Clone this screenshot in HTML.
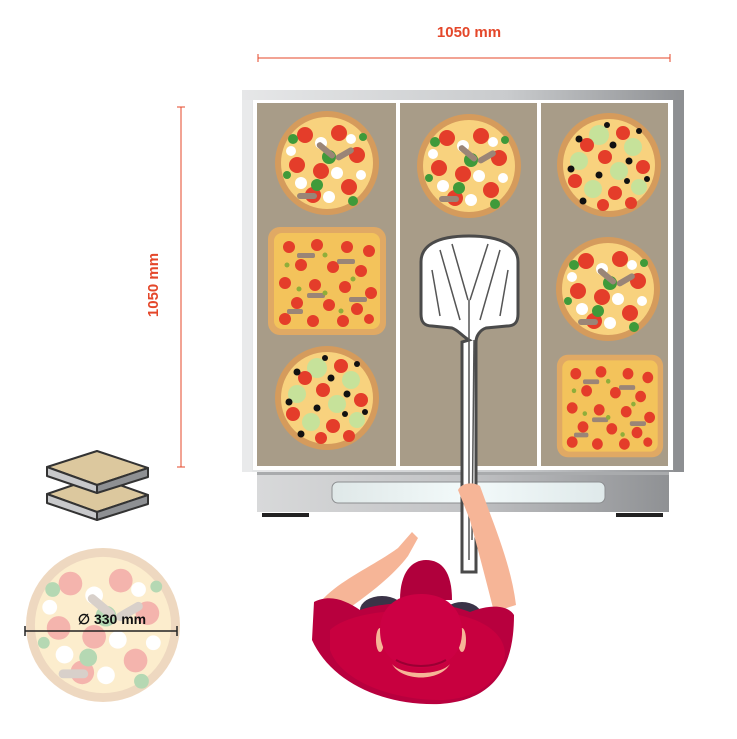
<!DOCTYPE html>
<html><head><meta charset="utf-8"><style>
html,body{margin:0;padding:0;background:#fff}
svg{display:block}
text{font-family:"Liberation Sans",sans-serif;font-weight:bold}
</style></head><body>
<svg width="737" height="739" viewBox="0 0 737 739" xmlns="http://www.w3.org/2000/svg">
<defs>
<linearGradient id="frameTop" x1="0" x2="1"><stop offset="0" stop-color="#e6e7e8"/><stop offset=".6" stop-color="#c9cbcd"/><stop offset="1" stop-color="#8e9093"/></linearGradient>
<linearGradient id="bar" x1="0" x2="1"><stop offset="0" stop-color="#d8d9da"/><stop offset=".5" stop-color="#c2c3c5"/><stop offset="1" stop-color="#8f9194"/></linearGradient>
<linearGradient id="win" x1="0" x2="1"><stop offset="0" stop-color="#dfe8e8"/><stop offset=".5" stop-color="#f3fafa"/><stop offset="1" stop-color="#dfe9ea"/></linearGradient>
<g id="marg">
<circle r="52" fill="#d59b5c"/><circle r="46" fill="#f8d27e"/>
<circle cx="-22" cy="-28" r="8" fill="#e43d2a"/><circle cx="12" cy="-30" r="8" fill="#e43d2a"/><circle cx="30" cy="-8" r="8" fill="#e43d2a"/><circle cx="-30" cy="2" r="8" fill="#e43d2a"/><circle cx="-6" cy="8" r="8" fill="#e43d2a"/><circle cx="22" cy="24" r="8" fill="#e43d2a"/><circle cx="-14" cy="32" r="8" fill="#e43d2a"/>
<circle cx="-6" cy="-20" r="6" fill="#fff"/><circle cx="24" cy="-24" r="5" fill="#fff"/><circle cx="-36" cy="-12" r="5" fill="#fff"/><circle cx="10" cy="10" r="6" fill="#fff"/><circle cx="-26" cy="20" r="6" fill="#fff"/><circle cx="34" cy="12" r="5" fill="#fff"/><circle cx="2" cy="34" r="6" fill="#fff"/>
<circle cx="-34" cy="-24" r="5" fill="#3f9a3a"/><circle cx="2" cy="-6" r="7" fill="#3f9a3a"/><circle cx="36" cy="-26" r="4" fill="#3f9a3a"/><circle cx="-10" cy="22" r="6" fill="#3f9a3a"/><circle cx="26" cy="38" r="5" fill="#3f9a3a"/><circle cx="-40" cy="12" r="4" fill="#3f9a3a"/>
<rect x="-20" y="-12" width="22" height="6" rx="3" fill="#9a8577" transform="rotate(40)"/><rect x="10" y="-2" width="20" height="6" rx="3" fill="#9a8577" transform="rotate(-30)"/><rect x="-30" y="30" width="20" height="6" rx="3" fill="#9a8577"/>
</g>
<g id="veg">
<circle r="52" fill="#d59b5c"/><circle r="46" fill="#f8d27e"/>
<circle cx="-10" cy="-30" r="10" fill="#c6e29a"/><circle cx="24" cy="-18" r="9" fill="#c6e29a"/><circle cx="-30" cy="-4" r="9" fill="#c6e29a"/><circle cx="10" cy="6" r="9" fill="#c6e29a"/><circle cx="-16" cy="24" r="9" fill="#c6e29a"/><circle cx="30" cy="22" r="8" fill="#c6e29a"/>
<circle cx="14" cy="-32" r="7" fill="#e43d2a"/><circle cx="-22" cy="-20" r="7" fill="#e43d2a"/><circle cx="-4" cy="-8" r="7" fill="#e43d2a"/><circle cx="34" cy="2" r="7" fill="#e43d2a"/><circle cx="-34" cy="16" r="7" fill="#e43d2a"/><circle cx="6" cy="28" r="7" fill="#e43d2a"/><circle cx="-6" cy="40" r="6" fill="#e43d2a"/><circle cx="22" cy="38" r="6" fill="#e43d2a"/>
<g fill="#111"><circle cx="-30" cy="-26" r="3.5"/><circle cx="4" cy="-20" r="3.5"/><circle cx="30" cy="-34" r="3"/><circle cx="-38" cy="4" r="3.5"/><circle cx="20" cy="-4" r="3.5"/><circle cx="-10" cy="10" r="3.5"/><circle cx="38" cy="14" r="3"/><circle cx="-26" cy="36" r="3.5"/><circle cx="18" cy="16" r="3"/><circle cx="-2" cy="-40" r="3"/></g>
</g>
<g id="sq">
<rect x="-59" y="-54" width="118" height="108" rx="12" fill="#e0a964"/><rect x="-53" y="-48" width="106" height="96" rx="8" fill="#f3c35b"/>
<g fill="#e43d2a"><circle cx="-38" cy="-34" r="6"/><circle cx="-10" cy="-36" r="6"/><circle cx="20" cy="-34" r="6"/><circle cx="42" cy="-30" r="6"/><circle cx="-26" cy="-16" r="6"/><circle cx="6" cy="-14" r="6"/><circle cx="34" cy="-10" r="6"/><circle cx="-42" cy="2" r="6"/><circle cx="-12" cy="4" r="6"/><circle cx="18" cy="6" r="6"/><circle cx="44" cy="12" r="6"/><circle cx="-30" cy="22" r="6"/><circle cx="2" cy="24" r="6"/><circle cx="30" cy="28" r="6"/><circle cx="-42" cy="38" r="6"/><circle cx="-14" cy="40" r="6"/><circle cx="16" cy="40" r="6"/><circle cx="42" cy="38" r="5"/></g>
<g fill="#9a8577"><rect x="-30" y="-28" width="18" height="5" rx="2"/><rect x="10" y="-22" width="18" height="5" rx="2"/><rect x="-20" y="12" width="18" height="5" rx="2"/><rect x="22" y="16" width="18" height="5" rx="2"/><rect x="-40" y="28" width="16" height="5" rx="2"/></g>
<g fill="#8fae3a"><circle cx="-2" cy="-26" r="2.5"/><circle cx="-40" cy="-16" r="2.5"/><circle cx="26" cy="-2" r="2.5"/><circle cx="-2" cy="12" r="2.5"/><circle cx="14" cy="30" r="2.5"/><circle cx="-28" cy="8" r="2.5"/></g>
</g>
</defs>

<g stroke="#e4472a" stroke-width="1" fill="none">
<line x1="258" y1="58" x2="670" y2="58"/><line x1="258" y1="54" x2="258" y2="62"/><line x1="670" y1="54" x2="670" y2="62"/>
<line x1="181" y1="107" x2="181" y2="467"/><line x1="177" y1="107" x2="185" y2="107"/><line x1="177" y1="467" x2="185" y2="467"/>
</g>
<text x="469" y="37" font-size="15" fill="#e4472a" text-anchor="middle">1050 mm</text>
<text transform="translate(158,285) rotate(-90)" font-size="15" fill="#e4472a" text-anchor="middle">1050 mm</text>

<rect x="242" y="90" width="442" height="382" fill="url(#frameTop)"/>
<rect x="242" y="100" width="10" height="372" fill="#e9eaeb"/>
<rect x="674" y="100" width="10" height="372" fill="#8d8f92"/>
<rect x="253" y="100" width="420" height="370" fill="#fff"/>
<rect x="257" y="103" width="139" height="363" fill="#a89c88"/>
<rect x="400" y="103" width="137" height="363" fill="#a89c88"/>
<rect x="541" y="103" width="127" height="363" fill="#a89c88"/>

<use href="#marg" x="327" y="163"/>
<use href="#sq" x="327" y="281"/>
<use href="#veg" x="327" y="398"/>
<use href="#marg" x="469" y="166"/>
<use href="#veg" x="609" y="165"/>
<use href="#marg" x="608" y="289"/>
<use href="#sq" transform="translate(610 406) scale(.9 .95)"/>

<rect x="257" y="472" width="412" height="40" fill="url(#bar)"/>
<rect x="257" y="472" width="412" height="3" fill="#a9abad"/>
<rect x="332" y="482" width="273" height="21" rx="6" fill="url(#win)" stroke="#8c8e90" stroke-width="1"/>
<rect x="262" y="513" width="47" height="4" fill="#222"/>
<rect x="616" y="513" width="47" height="4" fill="#222"/>

<path d="M469 340 C462 336 458 330 452 328 L432 326 C424 326 421 322 421 314 L421 262 C421 246 436 236 469 236 C502 236 518 246 518 262 L518 314 C518 322 515 326 507 326 L486 328 C480 330 476 336 476 342 L476 572 L462 572 L462 342 Z" fill="#fff" stroke="#4a4a4a" stroke-width="3"/>
<g stroke="#555" stroke-width="1.5" fill="none">
<path d="M440 250 L460 320"/><path d="M452 244 L468 300"/><path d="M488 244 L470 300"/><path d="M500 250 L480 320"/><path d="M432 270 L440 316"/><path d="M508 270 L500 316"/><path d="M469 300 L469 560"/><path d="M474 340 L472 540"/>
</g>

<path d="M322 600 C340 580 375 565 398 548 L412 532 L418 538 L408 556 C390 580 360 600 340 615 Z" fill="#f6b597"/>
<path d="M458 490 C462 482 474 482 480 486 L488 508 C500 540 512 572 516 605 L494 612 C486 580 478 550 470 520 Z" fill="#f6b597"/>
<ellipse cx="382" cy="610" rx="22" ry="14" fill="#3a3347"/>
<ellipse cx="462" cy="616" rx="20" ry="14" fill="#3a3347"/>
<path d="M314 602 C330 594 345 600 360 610 C390 600 440 600 470 612 C490 604 508 605 514 615 C514 660 500 700 440 704 C380 706 330 680 312 640 Z" fill="#b8003e"/>
<path d="M330 630 C350 612 400 608 440 612 C480 616 505 632 505 655 C500 685 470 700 440 700 C390 700 340 680 330 650 Z" fill="#c8003f"/>
<path d="M400 600 C400 572 412 560 426 560 C442 560 452 572 452 600 Z" fill="#b0003c"/>
<ellipse cx="380" cy="640" rx="4" ry="12" fill="#f6b597"/>
<ellipse cx="462" cy="640" rx="4" ry="12" fill="#f6b597"/>
<path d="M392 664 C402 676 440 676 450 664 C440 682 402 682 392 664 Z" fill="#f6b597"/>
<path d="M380 630 C380 605 400 594 421 594 C442 594 462 605 462 632 C462 656 445 668 421 668 C397 668 380 656 380 630 Z" fill="#cc0044"/>
<path d="M396 660 C410 668 432 668 446 660" stroke="#9a0033" stroke-width="2" fill="none"/>

<g stroke="#333" stroke-width="2" stroke-linejoin="round">
<path d="M47 494 L97 477 L148 495 L97 512 Z" fill="#dcc89e"/>
<path d="M47 494 L47 503 L97 520 L97 512 Z" fill="#c8c9cb"/>
<path d="M97 512 L148 495 L148 504 L97 520 Z" fill="#8e9093"/>
<path d="M47 467 L97 451 L148 468 L97 485 Z" fill="#dcc89e"/>
<path d="M47 467 L47 476 L97 493 L97 485 Z" fill="#c8c9cb"/>
<path d="M97 485 L148 468 L148 477 L97 493 Z" fill="#8e9093"/>
</g>

<g opacity="0.38"><use href="#marg" transform="translate(103 625) scale(1.48)"/></g>
<line x1="25" y1="631" x2="177" y2="631" stroke="#222" stroke-width="1.5"/>
<line x1="25" y1="626" x2="25" y2="636" stroke="#222" stroke-width="1.5"/>
<line x1="177" y1="626" x2="177" y2="636" stroke="#222" stroke-width="1.5"/>
<text x="112" y="624" font-size="14" fill="#111" text-anchor="middle">∅ 330 mm</text>
</svg>
</body></html>
